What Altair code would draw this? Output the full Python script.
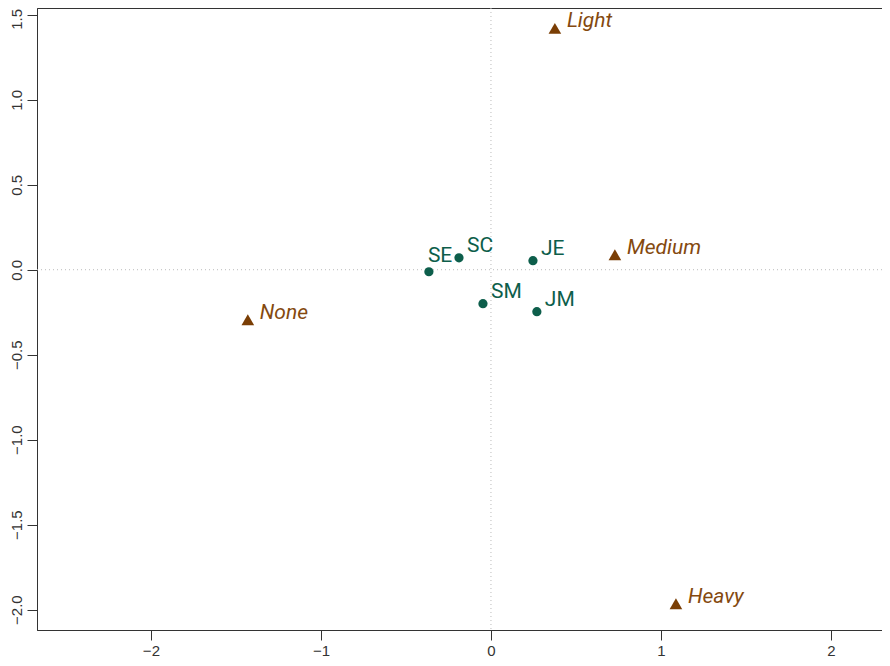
import altair as alt
import pandas as pd

row_names = ["SM", "JM", "SE", "JE", "SC"]
row_x = [-0.047, 0.270, -0.365, 0.247, -0.188]
row_y = [-0.200, -0.247, -0.012, 0.053, 0.070]

col_names = ["None", "Light", "Medium", "Heavy"]
col_x = [-1.430, 0.376, 0.729, 1.088]
col_y = [-0.294, 1.420, 0.088, -1.965]

x_ticks = [-2, -1, 0, 1, 2]
y_ticks = [-2.0, -1.5, -1.0, -0.5, 0.0, 0.5, 1.0, 1.5]

rows = pd.DataFrame({"name": row_names, "x": row_x, "y": row_y})
cols = pd.DataFrame({"name": col_names, "x": col_x, "y": col_y})

xdom = [-2.67, 2.30]
ydom = [-2.12, 1.54]

GREEN = "#0d5e4b"
BROWN = "#7a3e05"
LABEL_BROWN = "#84490f"
LABEL_FONT = "Roboto"

xs = alt.Scale(domain=xdom, nice=False, zero=False)
ys = alt.Scale(domain=ydom, nice=False, zero=False)

xax = alt.Axis(values=x_ticks, format="d", title=None, grid=False, tickSize=10,
               labelFontSize=15, labelPadding=3, labelColor="#333333",
               domainColor="#333333", tickColor="#333333", labelFont="Liberation Sans")
yax = alt.Axis(values=y_ticks, format=".1f", title=None, grid=False, tickSize=10,
               labelFontSize=15, labelPadding=3, labelAngle=-90, labelAlign="center",
               labelBaseline="bottom", labelColor="#333333",
               labelOffset={"condition": {"test": "datum.value > 1.4", "value": 4}, "value": 0},
               domainColor="#333333", tickColor="#333333", labelFont="Liberation Sans")

base_r = alt.Chart(rows)
base_c = alt.Chart(cols)

vline = alt.Chart(pd.DataFrame({"v": [0]})).mark_rule(
    color="#bbbbbb", strokeDash=[1, 3], strokeWidth=1).encode(
    x=alt.X("v:Q", scale=xs, axis=xax))
hline = alt.Chart(pd.DataFrame({"v": [0]})).mark_rule(
    color="#bbbbbb", strokeDash=[1, 3], strokeWidth=1).encode(
    y=alt.Y("v:Q", scale=ys, axis=yax))

pts = base_r.mark_circle(size=85, color=GREEN, opacity=1).encode(
    x=alt.X("x:Q", scale=xs, axis=xax), y=alt.Y("y:Q", scale=ys, axis=yax))

lab_main = base_r.transform_filter(alt.datum.name != "SE").mark_text(
    align="left", baseline="alphabetic", dx=8, dy=-6, fontSize=21,
    font=LABEL_FONT, color=GREEN).encode(
    x=alt.X("x:Q", scale=xs), y=alt.Y("y:Q", scale=ys), text="name:N")
lab_se = base_r.transform_filter(alt.datum.name == "SE").mark_text(
    align="left", baseline="alphabetic", dx=-1, dy=-10, fontSize=21,
    font=LABEL_FONT, color=GREEN).encode(
    x=alt.X("x:Q", scale=xs), y=alt.Y("y:Q", scale=ys), text="name:N")

tri = base_c.mark_point(shape="triangle-up", size=160, filled=True, color=BROWN,
                        opacity=1).encode(
    x=alt.X("x:Q", scale=xs), y=alt.Y("y:Q", scale=ys))
lab_c = base_c.mark_text(align="left", baseline="alphabetic", dx=12, dy=-1,
                         fontSize=21, fontStyle="italic",
                         font=LABEL_FONT, color=LABEL_BROWN).encode(
    x=alt.X("x:Q", scale=xs), y=alt.Y("y:Q", scale=ys), text="name:N")

chart = alt.layer(vline, hline, pts, lab_main, lab_se, tri, lab_c).properties(
    width=845, height=622, background="white",
    padding={"left": 29, "top": 0, "right": 0, "bottom": 28},
    autosize=alt.AutoSizeParams(type="none")
).configure_view(stroke="#333333", strokeWidth=1)

chart.save("out.html", embed_options={"renderer": "svg", "actions": False})
